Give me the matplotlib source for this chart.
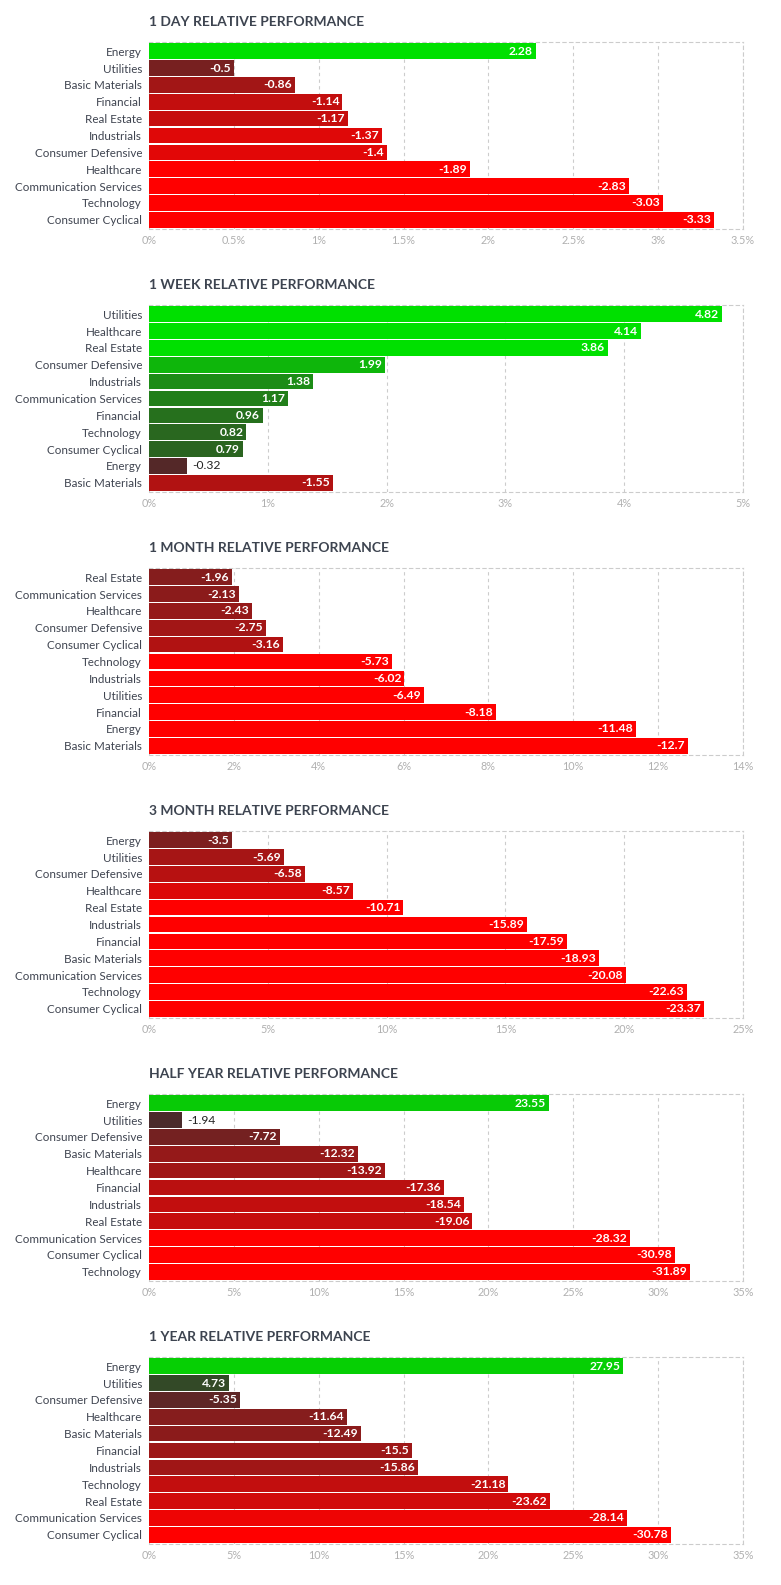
import numpy as np
import matplotlib
matplotlib.use("Agg")
import matplotlib.pyplot as plt
from matplotlib.colors import LinearSegmentedColormap, Normalize

plt.rcParams['font.family'] = ['Lato', 'DejaVu Sans']

# Data for each panel (top to bottom order)
titles = ['1 DAY RELATIVE PERFORMANCE', '1 WEEK RELATIVE PERFORMANCE',
          '1 MONTH RELATIVE PERFORMANCE', '3 MONTH RELATIVE PERFORMANCE',
          'HALF YEAR RELATIVE PERFORMANCE', '1 YEAR RELATIVE PERFORMANCE']

day_sectors = ['Energy', 'Utilities', 'Basic Materials', 'Financial', 'Real Estate', 'Industrials',
               'Consumer Defensive', 'Healthcare', 'Communication Services', 'Technology', 'Consumer Cyclical']
day_values = [2.28, -0.5, -0.86, -1.14, -1.17, -1.37, -1.4, -1.89, -2.83, -3.03, -3.33]

week_sectors = ['Utilities', 'Healthcare', 'Real Estate', 'Consumer Defensive', 'Industrials',
                'Communication Services', 'Financial', 'Technology', 'Consumer Cyclical', 'Energy', 'Basic Materials']
week_values = [4.82, 4.14, 3.86, 1.99, 1.38, 1.17, 0.96, 0.82, 0.79, -0.32, -1.55]

month_sectors = ['Real Estate', 'Communication Services', 'Healthcare', 'Consumer Defensive', 'Consumer Cyclical',
                 'Technology', 'Industrials', 'Utilities', 'Financial', 'Energy', 'Basic Materials']
month_values = [-1.96, -2.13, -2.43, -2.75, -3.16, -5.73, -6.02, -6.49, -8.18, -11.48, -12.7]

q_sectors = ['Energy', 'Utilities', 'Consumer Defensive', 'Healthcare', 'Real Estate', 'Industrials',
             'Financial', 'Basic Materials', 'Communication Services', 'Technology', 'Consumer Cyclical']
q_values = [-3.5, -5.69, -6.58, -8.57, -10.71, -15.89, -17.59, -18.93, -20.08, -22.63, -23.37]

half_sectors = ['Energy', 'Utilities', 'Consumer Defensive', 'Basic Materials', 'Healthcare', 'Financial',
                'Industrials', 'Real Estate', 'Communication Services', 'Consumer Cyclical', 'Technology']
half_values = [23.55, -1.94, -7.72, -12.32, -13.92, -17.36, -18.54, -19.06, -28.32, -30.98, -31.89]

year_sectors = ['Energy', 'Utilities', 'Consumer Defensive', 'Healthcare', 'Basic Materials', 'Financial',
                'Industrials', 'Technology', 'Real Estate', 'Communication Services', 'Consumer Cyclical']
year_values = [27.95, 4.73, -5.35, -11.64, -12.49, -15.5, -15.86, -21.18, -23.62, -28.14, -30.78]

# axis ticks (percent) and colour scale limits per panel
ticks = [np.arange(0, 3.51, 0.5), np.arange(0, 5.1, 1), np.arange(0, 14.1, 2),
         np.arange(0, 25.1, 5), np.arange(0, 35.1, 5), np.arange(0, 35.1, 5)]
tick_labels = [['0%', '0.5%', '1%', '1.5%', '2%', '2.5%', '3%', '3.5%'],
               ['0%', '1%', '2%', '3%', '4%', '5%'],
               ['0%', '2%', '4%', '6%', '8%', '10%', '12%', '14%'],
               ['0%', '5%', '10%', '15%', '20%', '25%'],
               ['0%', '5%', '10%', '15%', '20%', '25%', '30%', '35%'],
               ['0%', '5%', '10%', '15%', '20%', '25%', '30%', '35%']]
color_limits = [1.65, 2.6, 5.3, 10.5, 27, 31]

sectors = [day_sectors, week_sectors, month_sectors, q_sectors, half_sectors, year_sectors]
values = [day_values, week_values, month_values, q_values, half_values, year_values]

cmap = LinearSegmentedColormap.from_list('perf', [(0.0, '#ff0000'), (0.5, '#3c2e2e'), (1.0, '#00e000')])

W, H = 781, 1585
fig = plt.figure(figsize=(W / 100, H / 100), dpi=100)

left_px, right_px = 149, 743
for i in range(6):
    top_px = 42 + 263 * i
    bot_px = 229 + 263 * i
    ax = fig.add_axes([left_px / W, 1 - bot_px / H, (right_px - left_px) / W, (bot_px - top_px) / H])
    vals = np.array(values[i])
    absv = np.abs(vals)
    norm = Normalize(-color_limits[i], color_limits[i], clip=True)
    cols = cmap(norm(vals))
    y = np.arange(len(vals))
    ax.barh(y, absv, height=0.93, color=cols, zorder=3)
    xmax = ticks[i][-1]
    ax.set_xlim(0, xmax)
    ax.set_ylim(len(vals) - 0.45, -0.55)
    ax.set_yticks(y)
    ax.set_yticklabels(sectors[i], fontsize=8.4, color='#3f4450')
    ax.set_xticks(ticks[i])
    ax.set_xticklabels(tick_labels[i], fontsize=7.8, color='#b0b0b0')
    ax.tick_params(length=0, pad=4)
    ax.tick_params(axis='y', pad=5)
    ax.grid(axis='x', color='#cccccc', linestyle=(0, (3, 3)), linewidth=0.8, zorder=0)
    for side in ['top', 'right', 'bottom']:
        ax.spines[side].set_color('#cccccc')
        ax.spines[side].set_linestyle((0, (3, 3)))
        ax.spines[side].set_linewidth(0.8)
    ax.spines['left'].set_visible(False)

    px_per_unit = (right_px - left_px) / xmax
    for yy, v, a in zip(y, vals, absv):
        label = ('%g' % v)
        if a * px_per_unit > 45:
            ax.text(a - 3 / px_per_unit, yy, label, ha='right', va='center', fontsize=8.7,
                    fontweight='bold', color='white', zorder=4)
        else:
            ax.text(a + 5 / px_per_unit, yy, label, ha='left', va='center', fontsize=8.7,
                    color='#222222', zorder=4)

    fig.text(left_px / W, 1 - (22 + 263 * i) / H, titles[i], ha='left', va='center',
             fontsize=10, fontweight='bold', color='#3d4450')

fig.savefig('out.png', dpi=100, facecolor='white')
